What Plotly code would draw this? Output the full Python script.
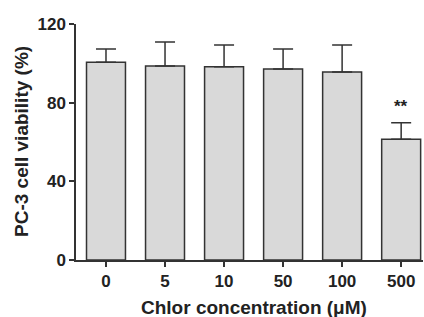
import plotly.graph_objects as go

categories = ["0", "5", "10", "50", "100", "500"]
viability = [100.5, 98.6, 98.3, 97.1, 95.6, 61.4]
sd_upper = [6.8, 12.2, 11.0, 10.2, 13.7, 8.4]
sig_labels = ["", "", "", "", "", "**"]

DARK = "#333333"
TXT = "#222222"
FONT = "Liberation Sans, Arial, sans-serif"

fig = go.Figure()
fig.add_trace(go.Bar(
    x=categories, y=viability,
    width=0.66,
    marker=dict(color="#d9d9d9", line=dict(color=DARK, width=1.5)),
    error_y=dict(type="data", array=sd_upper, arrayminus=[0]*len(sd_upper),
                 symmetric=False, color=DARK, thickness=1.5, width=10),
))
for i, (v, e, s) in enumerate(zip(viability, sd_upper, sig_labels)):
    if s:
        fig.add_annotation(x=i, y=v + e, text=s, showarrow=False,
                           yanchor="middle", yshift=16,
                           font=dict(family=FONT, size=17, color=TXT, weight="bold"))

fig.add_annotation(text="Chlor concentration (μM)", xref="paper", yref="paper",
                   x=0.5, y=-0.2, xshift=4, yshift=0, showarrow=False,
                   yanchor="middle",
                   font=dict(family=FONT, size=19, color=TXT, weight="bold"))
fig.add_annotation(text="PC-3 cell viability (%)", xref="paper", yref="paper",
                   x=0, y=0.5, xshift=-55, showarrow=False, textangle=-90,
                   xanchor="center", yanchor="middle",
                   font=dict(family=FONT, size=19, color=TXT, weight="bold"))

fig.update_layout(
    width=424, height=317,
    margin=dict(l=76, r=1, t=24, b=57),
    paper_bgcolor="white", plot_bgcolor="white",
    showlegend=False,
    font=dict(family=FONT, size=17, color=TXT),
    xaxis=dict(
        type="category", range=[-0.508, 5.37], automargin=False,
        showline=True, linecolor=DARK, linewidth=1.5,
        ticks="outside", ticklen=5, tickwidth=1.5, tickcolor=DARK,
        tickfont=dict(family=FONT, size=17, color=TXT, weight="bold"),
        showgrid=False,
    ),
    yaxis=dict(
        range=[0, 120], tickvals=[0, 40, 80, 120], automargin=False,
        showline=True, linecolor=DARK, linewidth=1.5,
        ticks="outside", ticklen=5, tickwidth=1.5, tickcolor=DARK,
        tickfont=dict(family=FONT, size=17, color=TXT, weight="bold"),
        showgrid=False, zeroline=False,
    ),
)
fig.write_html("out.html", config={"displayModeBar": False},
               post_script="document.body.style.margin='0';document.body.style.overflow='hidden';")
